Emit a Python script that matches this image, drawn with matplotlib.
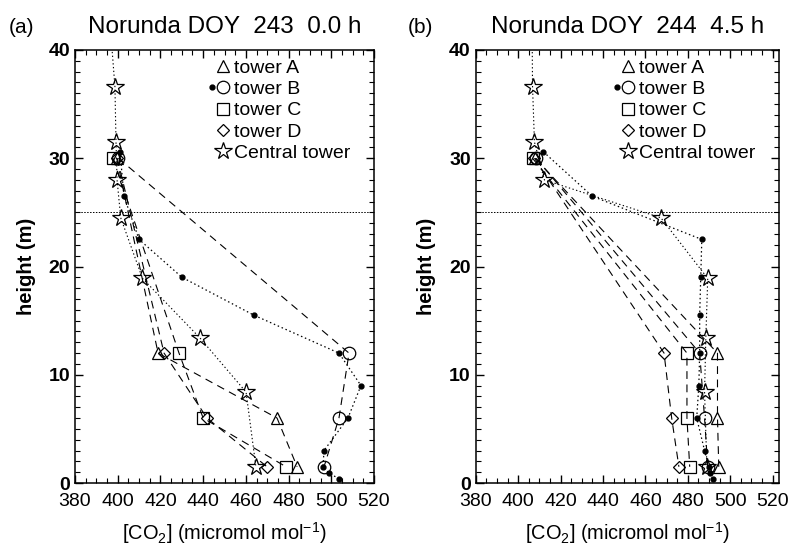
import matplotlib
matplotlib.use('Agg')
import matplotlib.pyplot as plt
from matplotlib.lines import Line2D
from matplotlib.legend_handler import HandlerTuple
from matplotlib.ticker import MultipleLocator

plt.rcParams['font.family'] = ['Liberation Sans', 'DejaVu Sans']
plt.rcParams['mathtext.fontset'] = 'custom'
plt.rcParams['mathtext.rm'] = 'Liberation Sans'
plt.rcParams['mathtext.it'] = 'Liberation Sans:italic'
plt.rcParams['mathtext.bf'] = 'Liberation Sans:bold'

# central tower heights, first value is above the plotted range
central_h = [44, 36.6, 31.5, 28.0, 24.5, 18.9, 13.4, 8.4, 1.5]
central_a = [395.8, 398.7, 399.2, 399.7, 401.4, 411.6, 438.5, 460.1, 464.7]
central_b = [406.5, 406.8, 407.7, 412.4, 467.3, 489.4, 488.5, 487.9, 489.0]

# tower B profile (black dots)
dots_h = [30.6, 26.5, 22.5, 19.0, 15.5, 12.0, 9.0, 6.0, 3.0, 1.5, 0.9, 0.4]
dots_a = [401.1, 402.9, 410.0, 430.1, 463.8, 503.6, 513.9, 507.8, 496.6, 496.1, 499.0, 503.6]
dots_b = [411.9, 434.9, 486.6, 486.1, 485.6, 485.6, 485.2, 484.2, 487.9, 489.9, 490.3, 491.7]

# small towers A-D
tower_h = [30, 12, 6, 1.5]
towerA_a = [399.5, 418.9, 474.6, 484.0]
towerB_a = [400.3, 508.3, 503.6, 496.6]
towerC_a = [397.8, 428.7, 440.0, 478.8]
towerD_a = [399.8, 421.7, 441.8, 469.9]
towerA_b = [408.0, 494.0, 494.0, 494.6]
towerB_b = [408.5, 485.6, 487.9, 489.4]
towerC_b = [406.8, 479.6, 479.6, 480.9]
towerD_b = [407.7, 468.8, 472.4, 475.8]

titles = ['Norunda DOY  243  0.0 h', 'Norunda DOY  244  4.5 h']
panel_labels = ['(a)', '(b)']
legend_labels = ['tower A', 'tower B', 'tower C', 'tower D', 'Central tower']

DASH = (0, (7, 5))
DOT = (0, (1.2, 2.2))


def draw_panel(ax, cen, dots, ta, tb, tc, td, title, xmax):
    kw = dict(color='k', lw=0.8, mfc='none', mec='k', mew=0.9)
    ax.plot(ta, tower_h, ls=DASH, marker='^', ms=8.5, **kw)
    ax.plot(tb, tower_h, ls=DASH, marker='o', ms=9, **kw)
    ax.plot(tc, tower_h, ls=DASH, marker='s', ms=8.5, **kw)
    ax.plot(td, tower_h, ls=DASH, marker='D', ms=6, **kw)
    ax.plot(dots, dots_h, ls=DOT, color='k', lw=0.9, marker='o', ms=3.5, mfc='k', mec='k')
    ax.plot(cen, central_h, ls=DOT, marker='*', ms=13, **kw)
    ax.axhline(25, color='k', lw=0.7, ls=(0, (1.5, 1.5)))

    ax.set_xlim(380, xmax)
    ax.set_ylim(0, 40)
    ax.set_xticks(range(380, 521, 20))
    ax.xaxis.set_minor_locator(MultipleLocator(5))
    ax.yaxis.set_major_locator(MultipleLocator(10))
    ax.yaxis.set_minor_locator(MultipleLocator(1))
    ax.tick_params(which='both', direction='in', top=True, right=True, labelsize=14)
    ax.tick_params(axis='x', pad=7)
    ax.tick_params(axis='y', pad=3.5)
    ax.tick_params(which='major', length=6, width=1)
    ax.tick_params(which='minor', length=3.5, width=0.8)
    for lab in ax.get_yticklabels():
        lab.set_fontweight('bold')
    for s in ax.spines.values():
        s.set_linewidth(1.1)

    ax.set_title(title, fontsize=17.5, pad=12)
    ax.set_ylabel('height (m)', fontsize=14.5, fontweight='bold')
    ax.yaxis.set_label_coords(-0.13, 0.5)
    ax.set_xlabel(r'[CO$_\mathrm{2}$] (micromol mol$^\mathrm{-1}$)', fontsize=14.4)
    ax.xaxis.set_label_coords(0.5, -0.085)

    blank = Line2D([], [], ls='none')
    mk = dict(ls='none', color='k', mfc='none', mec='k', mew=0.9)
    handles = [
        (blank, Line2D([], [], marker='^', ms=8.5, **mk)),
        (Line2D([], [], marker='o', ms=3.5, ls='none', color='k'),
         Line2D([], [], marker='o', ms=9, **mk)),
        (blank, Line2D([], [], marker='s', ms=8.5, **mk)),
        (blank, Line2D([], [], marker='D', ms=6, **mk)),
        (blank, Line2D([], [], marker='*', ms=13, **mk)),
    ]
    return handles


def add_legend(ax, handles, x0):
    ax.legend(handles, legend_labels, handler_map={tuple: HandlerTuple(ndivide=None, pad=0)},
              loc='upper left', bbox_to_anchor=(x0, 0.979), frameon=False,
              fontsize=14, handlelength=1.13, handletextpad=0.28,
              labelspacing=0.19, borderpad=0, borderaxespad=0)


fig = plt.figure(figsize=(7.9, 5.47), dpi=100)
ax1 = fig.add_axes([75 / 790, 64 / 547, 299 / 790, 433 / 547])
ax2 = fig.add_axes([475.7 / 790, 64 / 547, 303.3 / 790, 433 / 547])

h = draw_panel(ax1, central_a, dots_a, towerA_a, towerB_a, towerC_a, towerD_a, titles[0], 520)
add_legend(ax1, h, 0.44)

h = draw_panel(ax2, central_b, dots_b, towerA_b, towerB_b, towerC_b, towerD_b, titles[1], 523)
add_legend(ax2, h, 0.447)

fig.text(22 / 790, 1 - 33 / 547, panel_labels[0], fontsize=15, ha='center', va='baseline')
fig.text(420 / 790, 1 - 33 / 547, panel_labels[1], fontsize=15, ha='center', va='baseline')

fig.savefig('out.png', dpi=100)
